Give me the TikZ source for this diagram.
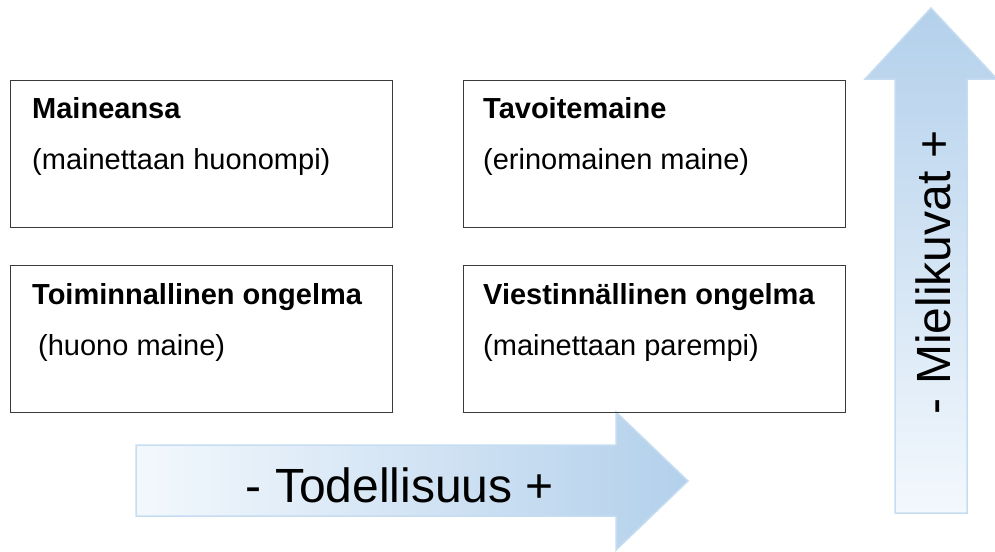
\documentclass[tikz,border=0pt]{standalone}
\usepackage{fontspec}
\setmainfont{Liberation Sans}
\definecolor{arrowlight}{HTML}{F3F8FD}
\definecolor{arrowdark}{HTML}{B3D0EB}
\definecolor{arrowedge}{HTML}{C6DDF1}
\definecolor{boxline}{HTML}{3A3A3A}

\begin{document}
\begin{tikzpicture}[x=1pt,y=-1pt,
        quadrant/.style={draw=boxline,line width=1pt,minimum width=382pt,minimum height=147pt,inner sep=0pt,anchor=north west},
        heading/.style={anchor=base west,inner sep=0pt,font=\fontsize{29}{34}\selectfont\bfseries},
        remark/.style={anchor=base west,inner sep=0pt,font=\fontsize{29}{34}\selectfont},
        axislabel/.style={anchor=base,inner sep=0pt,font=\fontsize{48}{56}\selectfont}]
        \useasboundingbox (0,0) rectangle (995,551);
        % the two axes
        \path[left color=arrowlight,right color=arrowdark,draw=arrowedge,line width=1.5pt,line join=mitre]
            (136,445) -- (616,445) -- (616,412) -- (688,481) -- (616,550) -- (616,516) -- (136,516) -- cycle;
        \path[bottom color=arrowlight,top color=arrowdark,draw=arrowedge,line width=1.5pt,line join=mitre]
            (895,513) -- (895,79) -- (865,79) -- (931,8) -- (997,79) -- (967,79) -- (967,513) -- cycle;
        \node[axislabel] (todellisuus) at (400,502) {- Todellisuus +};
        \node[axislabel,rotate=90] (mielikuvat) at (950,272) {- Mielikuvat +};
        % the four fields
        \node[quadrant] (maineansa) at (10,80) {};
        \node[quadrant] (tavoite) at (463,80) {};
        \node[quadrant] (toiminta) at (10,265) {};
        \node[quadrant] (viestinta) at (463,265) {};
        \node[heading] (maineansa-h) at (32,118) {Maineansa};
        \node[remark] (maineansa-r) at (32,169) {(mainettaan huonompi)};
        \node[heading] (tavoite-h) at (483,118) {Tavoitemaine};
        \node[remark] (tavoite-r) at (483,169) {(erinomainen maine)};
        \node[heading] (toiminta-h) at (32,304) {Toiminnallinen ongelma};
        \node[remark] (toiminta-r) at (38,355) {(huono maine)};
        \node[heading] (viestinta-h) at (483,304) {Viestinnällinen ongelma};
        \node[remark] (viestinta-r) at (483,355) {(mainettaan parempi)};
    \end{tikzpicture}
\end{document}
